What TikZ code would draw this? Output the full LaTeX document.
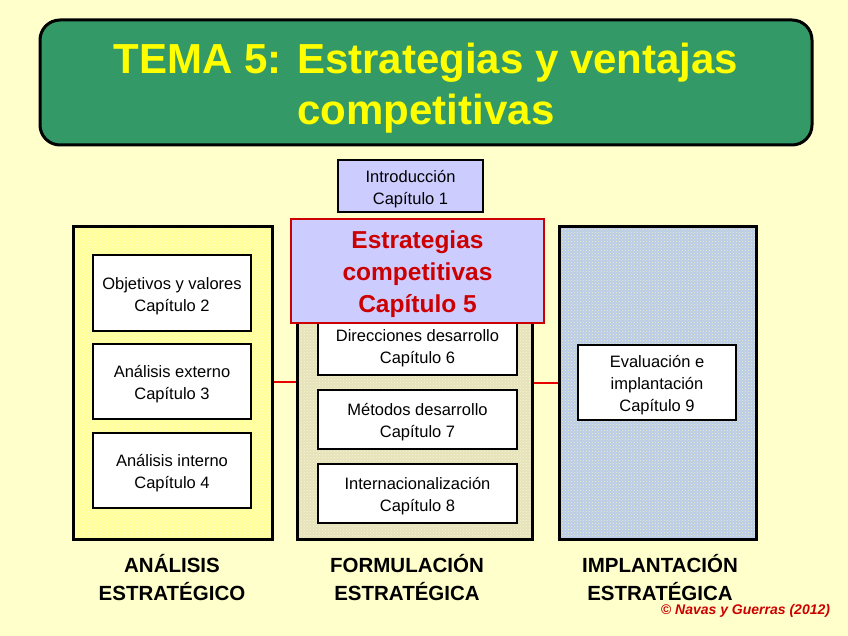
\documentclass[tikz,border=0pt]{standalone}
\usepackage{fontspec}
\setmainfont{Liberation Sans}
\usetikzlibrary{patterns}
\definecolor{bgyellow}{RGB}{255,255,204}
\definecolor{titlegreen}{RGB}{51,153,102}
\definecolor{titleyellow}{RGB}{255,255,0}
\definecolor{lavender}{RGB}{204,204,255}
\definecolor{boxred}{RGB}{204,0,0}
\definecolor{linkred}{RGB}{235,0,0}
\definecolor{anafill}{RGB}{255,255,153}
\definecolor{anadots}{RGB}{255,255,210}
\definecolor{formfill}{RGB}{230,226,186}
\definecolor{formdots}{RGB}{250,248,214}
\definecolor{implfill}{RGB}{186,204,232}
\definecolor{impldots}{RGB}{240,240,196}
\newcommand{\toprow}{\rule{0pt}{18pt}}
\begin{document}
\begin{tikzpicture}[x=1pt, y=-1pt,
  chapbox/.style = {draw, line width=2pt, fill=white, inner sep=0pt, align=center, font=\fontsize{16.5}{22}\selectfont},
  groupbox/.style 2 args = {draw, line width=3pt, preaction={fill=#1}, preaction={pattern=crosshatch dots, pattern color=#2},
    minimum height=312pt, inner sep=0pt},
  grouplabel/.style = {align=center, font=\fontsize{20.5}{28}\selectfont\bfseries},
  link/.style = {draw=linkred, line width=2pt}
]
\path[use as bounding box, fill=bgyellow] (0,0) rectangle (848,636);
\node[draw, line width=3pt, fill=titlegreen, rounded corners=20pt, minimum width=772pt, minimum height=125pt] (titlebox) at (426,82.5) {};
\node[text=titleyellow, align=center, font=\fontsize{42}{51}\selectfont\bfseries] (title) at (426,88) {TEMA 5: Estrategias y ventajas\\competitivas};
\node[groupbox={anafill}{anadots}, minimum width=199pt] (leftgrp) at (172.5,383) {};
\node[groupbox={formfill}{formdots}, minimum width=235pt] (centgrp) at (414.5,383) {};
\node[groupbox={implfill}{impldots}, minimum width=197pt] (rightgrp) at (657.5,383) {};
\node[chapbox, minimum width=158pt, minimum height=76pt] (obj) at (172,293) {\toprow Objetivos y valores\\Capítulo 2};
\node[chapbox, minimum width=158pt, minimum height=75pt] (ext) at (172,381.5) {\toprow Análisis externo\\Capítulo 3};
\node[chapbox, minimum width=158pt, minimum height=75pt] (int) at (172,470.5) {\toprow Análisis interno\\Capítulo 4};
\node[chapbox, minimum width=199pt, minimum height=59pt] (dir) at (417.5,345.5) {\toprow Direcciones desarrollo\\Capítulo 6};
\node[chapbox, minimum width=199pt, minimum height=59pt] (met) at (417.5,419.5) {\toprow Métodos desarrollo\\Capítulo 7};
\node[chapbox, minimum width=199pt, minimum height=59pt] (intl) at (417.5,493.5) {\toprow Internacionalización\\Capítulo 8};
\node[chapbox, minimum width=158pt, minimum height=75pt] (eval) at (657,382.5) {\toprow Evaluación e\\implantación\\Capítulo 9};
\draw[link] (ext.center -| leftgrp.east) -- (ext.center -| centgrp.west);
\draw[link] (eval.center -| centgrp.east) -- (eval.center -| rightgrp.west);
\node[chapbox, fill=lavender, minimum width=145pt, minimum height=52pt] (intro) at (410.5,186) {\toprow Introducción\\Capítulo 1};
\node[draw=boxred, line width=2pt, fill=lavender, minimum width=253pt, minimum height=104pt, text=boxred, align=center,
  font=\fontsize{24.5}{32}\selectfont\bfseries] (chapfive) at (417.5,271) {\rule{0pt}{25pt}Estrategias\\competitivas\\Capítulo 5};
\node[grouplabel] (analisis) at (172,578) {ANÁLISIS\\ESTRATÉGICO};
\node[grouplabel] (formulacion) at (407,578) {FORMULACIÓN\\ESTRATÉGICA};
\node[grouplabel] (implantacion) at (660,578) {IMPLANTACIÓN\\ESTRATÉGICA};
\node[text=boxred, anchor=base, font=\fontsize{14}{16}\selectfont\bfseries\itshape] (copyright) at (745.5,614) {© Navas y Guerras (2012)};
\end{tikzpicture}
\end{document}
